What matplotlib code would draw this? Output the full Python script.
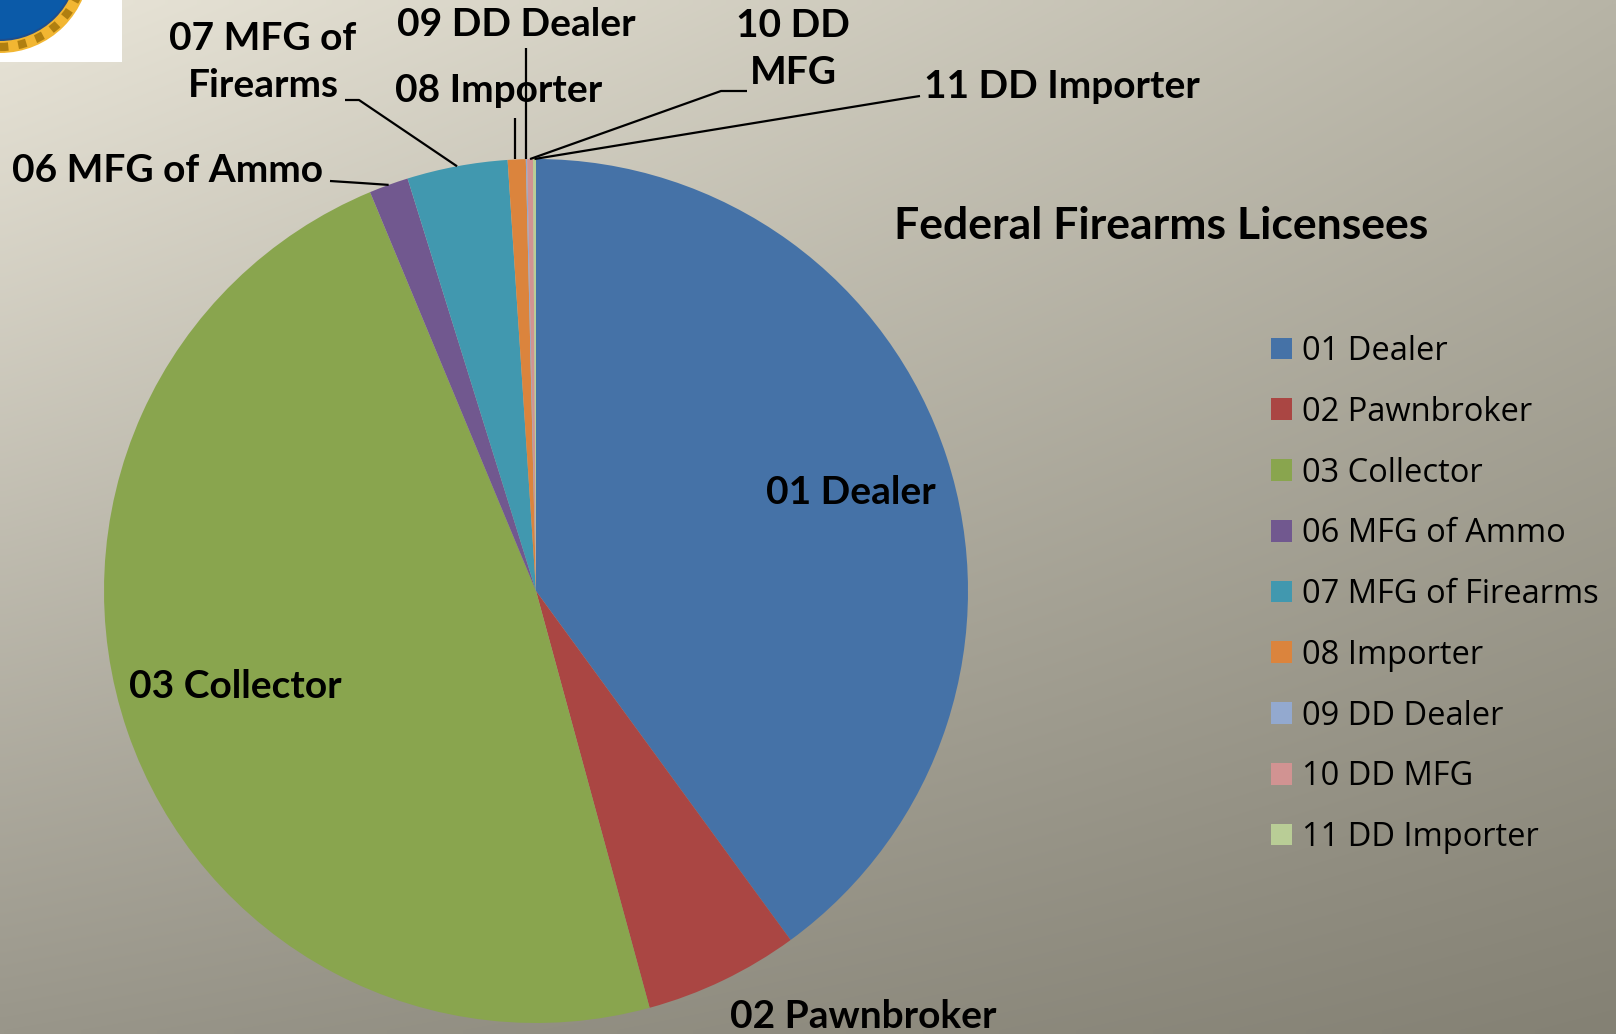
import numpy as np
import matplotlib
matplotlib.use("Agg")
import matplotlib.pyplot as plt
from matplotlib.patches import Rectangle, Circle

# licence counts by type
categories = ["01 Dealer", "02 Pawnbroker", "03 Collector", "06 MFG of Ammo",
              "07 MFG of Firearms", "08 Importer", "09 DD Dealer", "10 DD MFG",
              "11 DD Importer"]
counts = [50000, 7250, 60000, 1840, 4700, 840, 60, 270, 140]
colors = ["#4572A7", "#AA4643", "#89A54E", "#71588F", "#4198AF", "#DB843D",
          "#93A9CF", "#D19392", "#B9CD96"]
title = "Federal Firearms Licensees"

W, H = 1616, 1034
fig = plt.figure(figsize=(W / 100, H / 100), dpi=100)
ax = fig.add_axes([0, 0, 1, 1])

# background: bilinear gradient, light top-left -> darker bottom-right
tl = np.array([0xE9, 0xE5, 0xD8]) / 255
tr = np.array([0xB7, 0xB4, 0xA6]) / 255
bl = np.array([0x99, 0x96, 0x8A]) / 255
br = np.array([0x84, 0x81, 0x74]) / 255
u = np.linspace(0, 1, 200)[None, :, None]
v = np.linspace(0, 1, 130)[:, None, None]
bg = (1 - u) * (1 - v) * tl + u * (1 - v) * tr + (1 - u) * v * bl + u * v * br
ax.imshow(bg, extent=(0, W, 0, H), origin="upper", interpolation="bilinear",
          zorder=0, aspect="auto")

# pie, pixel units with y up
cx, cy, r = 536, H - 591, 432
wedges, _ = ax.pie(counts, colors=colors, startangle=90, counterclock=False,
                   center=(cx, cy), radius=r, wedgeprops=dict(linewidth=0))
for w in wedges:
    w.set_zorder(2)

ax.set_xlim(0, W)
ax.set_ylim(0, H)
ax.set_aspect("auto")
ax.axis("off")

# logo patch in the corner (white box + edge of a seal)
ax.add_patch(Rectangle((0, H - 62), 122, 62, facecolor="white", zorder=3))
clip = Rectangle((0, H - 62), 122, 62, transform=ax.transData)
for rad, fc in [(90, "#F2B632"), (78, "#1F4E8C"), (76, "#0B5AA8")]:
    c = Circle((0, H + 37), rad, facecolor=fc, edgecolor="none", zorder=4)
    c.set_clip_path(clip)
    ax.add_patch(c)
ring = Circle((0, H + 37), 84, facecolor="none", edgecolor="#B07F10",
              lw=6, ls=(0, (1, 1.2)), zorder=4)
ring.set_clip_path(clip)
ax.add_patch(ring)

lab_font = dict(family=["Lato", "DejaVu Sans"], fontweight="bold", fontsize=28,
                color="black", zorder=6)

ax.text(1161, H - 226, title, ha="center", va="center",
        **{**lab_font, "fontsize": 32})

# labels inside / near the big slices
ax.text(851, H - 493, "01 Dealer", ha="center", va="center", **lab_font)
ax.text(235, H - 686, "03 Collector", ha="center", va="center", **lab_font)
ax.text(863, H - 1016, "02 Pawnbroker", ha="center", va="center", **lab_font)


def anchor(i, rr=1.0):
    w = wedges[i]
    th = np.deg2rad((w.theta1 + w.theta2) / 2)
    return cx + r * rr * np.cos(th), cy + r * rr * np.sin(th)


# small slices: label position, leader elbow points (pixel, y down)
small = [
    (3, "06 MFG of Ammo", (167, 170), [(361, 183), (330, 181)]),
    (4, "07 MFG of\nFirearms", (263, 62), [(359, 100), (345, 100)]),
    (5, "08 Importer", (499, 91), [(515, 118)]),
    (6, "09 DD Dealer", (516, 25), [(526, 48)]),
    (7, "10 DD\nMFG", (793, 49), [(721, 91), (747, 91)]),
    (8, "11 DD Importer", (1062, 86), [(907, 98), (920, 96)]),
]
for i, txt, (tx, ty), pts in small:
    ax_, ay_ = anchor(i)
    xs = [ax_] + [p[0] for p in pts]
    ys = [ay_] + [H - p[1] for p in pts]
    if i in (5, 6):
        xs[0] = xs[1]
    ax.plot(xs, ys, color="black", lw=1.6, zorder=5, solid_capstyle="butt")
    ax.text(tx, H - ty, txt, ha="center", va="center", linespacing=1.4,
            **lab_font)

# legend
leg = ax.legend(wedges, categories, loc="upper left",
                bbox_to_anchor=(1258 / W, 1 - 322 / H),
                frameon=False,
                prop=dict(family=["Open Sans", "DejaVu Sans"], size=23.5),
                handlelength=0.65, handleheight=0.65, handletextpad=0.3,
                labelspacing=0.85, borderaxespad=0)

fig.savefig("out.png", dpi=100)
